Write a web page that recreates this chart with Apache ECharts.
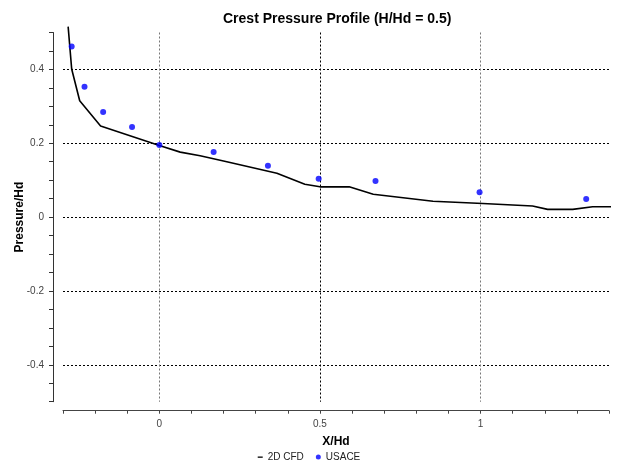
<!DOCTYPE html>
<html>
<head>
<meta charset="utf-8">
<script src="https://cdn.jsdelivr.net/npm/echarts@6/dist/echarts.min.js"></script>
<style>
  html, body { margin: 0; padding: 0; background: #fff; }
  #chart { width: 618px; height: 466px; }
</style>
</head>
<body>
<div id="chart"></div>
<script>
// 2D CFD crest pressure profile (X/Hd, Pressure/Hd)
const cfdX = [-0.284, -0.273, -0.248, -0.183, 0, 0.065, 0.127, 0.21, 0.366, 0.453, 0.5, 0.591, 0.666, 0.852, 1.007, 1.162, 1.209, 1.287, 1.349, 1.416];
const cfdY = [0.516, 0.401, 0.315, 0.247, 0.194, 0.176, 0.166, 0.150, 0.119, 0.089, 0.082, 0.082, 0.062, 0.043, 0.037, 0.030, 0.021, 0.021, 0.028, 0.028];

// USACE design curve points
const usaceX = [-0.273, -0.233, -0.175, -0.085, 0, 0.169, 0.338, 0.496, 0.673, 0.997, 1.329];
const usaceY = [0.462, 0.353, 0.285, 0.244, 0.195, 0.176, 0.139, 0.104, 0.098, 0.067, 0.049];

// Axis ranges and labelled ticks
const xRange = [-0.3, 1.4];
const yRange = [-0.5, 0.5];
const xLabelTicks = [0, 0.5, 1];
const yLabelTicks = [-0.4, -0.2, 0, 0.2, 0.4];

const near = (a, b) => Math.abs(a - b) < 1e-6;
const isIn = (list, v) => list.some(t => near(t, v));

// one colour per split line, visible only on labelled ticks
function lineColors(min, step, count, keep, colorFor) {
  const out = [];
  for (let i = 0; i < count; i++) {
    const v = min + i * step;
    out.push(isIn(keep, v) ? colorFor(v) : 'rgba(0,0,0,0)');
  }
  return out;
}
const xGridColors = lineColors(xRange[0], 0.1, 18, xLabelTicks, v => near(v, 0.5) ? '#000' : '#777');
const yGridColors = lineColors(yRange[0], 0.05, 21, yLabelTicks, () => '#000');

const FONT = '"Liberation Sans", Arial, sans-serif';
// short dash used as the legend mark of the CFD line
const DASH_ICON = 'path://M0,0 M0,2 L5,2 L5,3.3 L0,3.3 Z M5,5';

const chart = echarts.init(document.getElementById('chart'), null, { renderer: 'canvas' });
chart.setOption({
  animation: false,
  backgroundColor: '#fff',
  title: {
    text: 'Crest Pressure Profile (H/Hd = 0.5)',
    left: 218,
    top: 7,
    textStyle: { fontFamily: FONT, fontSize: 14, fontWeight: 'bold', color: '#000' }
  },
  legend: {
    left: 'center',
    top: 447,
    itemGap: 12,
    textStyle: { fontFamily: FONT, fontSize: 10, color: '#222' },
    data: [
      { name: '2D CFD', icon: DASH_ICON, itemStyle: { color: '#000' } },
      { name: 'USACE', icon: 'circle', itemStyle: { color: '#0000ff' } }
    ],
    itemWidth: 5,
    itemHeight: 5
  },
  grid: { left: 63, right: 9, top: 32.5, bottom: 64.3, containLabel: false, outerBoundsMode: 'none' },
  xAxis: {
    type: 'value',
    min: xRange[0],
    max: xRange[1],
    interval: 0.1,
    offset: 9,
    name: 'X/Hd',
    nameLocation: 'middle',
    nameGap: 25,
    nameMoveOverlap: false,
    nameTextStyle: { fontFamily: FONT, fontSize: 12, fontWeight: 'bold', color: '#000' },
    axisLine: { show: true, onZero: false, lineStyle: { color: '#444', width: 1 } },
    axisTick: { show: true, inside: false, length: 3, lineStyle: { color: '#444' } },
    axisLabel: {
      fontFamily: FONT, fontSize: 10, color: '#444', margin: 9,
      showMinLabel: true, showMaxLabel: true,
      formatter: v => isIn(xLabelTicks, v) ? String(Math.round(v * 10) / 10) : ''
    },
    splitLine: { show: true, lineStyle: { color: xGridColors, type: [2, 2], width: 1 } }
  },
  yAxis: {
    type: 'value',
    min: yRange[0],
    max: yRange[1],
    interval: 0.05,
    offset: 10,
    name: 'Pressure/Hd',
    nameLocation: 'middle',
    nameRotate: 90,
    nameGap: 27,
    nameMoveOverlap: false,
    nameTextStyle: { fontFamily: FONT, fontSize: 12, fontWeight: 'bold', color: '#000' },
    axisLine: { show: true, onZero: false, lineStyle: { color: '#333', width: 1 } },
    axisTick: { show: true, inside: false, length: 4, lineStyle: { color: '#333' } },
    axisLabel: {
      fontFamily: FONT, fontSize: 10, color: '#444', margin: 9,
      formatter: v => isIn(yLabelTicks, v) ? String(Math.round(v * 10) / 10) : ''
    },
    splitLine: { show: true, lineStyle: { color: yGridColors, type: [2, 2], width: 1 } }
  },
  series: [
    {
      name: '2D CFD',
      type: 'line',
      clip: false,
      showSymbol: false,
      symbol: 'none',
      lineStyle: { color: '#000', width: 1.6 },
      itemStyle: { color: '#000' },
      data: cfdX.map((x, i) => [x, cfdY[i]]),
      z: 2
    },
    {
      name: 'USACE',
      type: 'scatter',
      symbol: 'circle',
      symbolSize: 6,
      itemStyle: { color: '#0000ff' },
      data: usaceX.map((x, i) => [x, usaceY[i]]),
      z: 3
    }
  ]
});
</script>
</body>
</html>
